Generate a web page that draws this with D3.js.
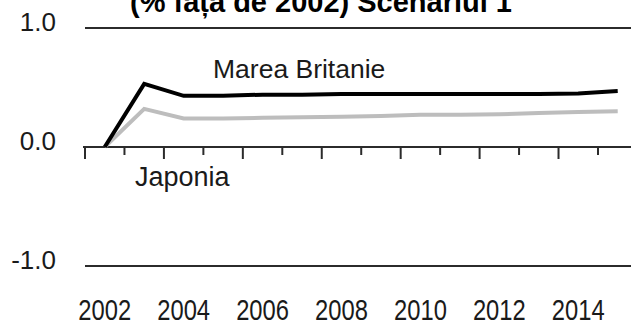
<!DOCTYPE html>
<html>
<head>
<meta charset="utf-8">
<script src="https://cdn.jsdelivr.net/npm/d3@7"></script>
<style>
  html, body { margin: 0; padding: 0; background: #fff; }
  svg { display: block; font-family: "Liberation Sans", Arial, sans-serif; }
</style>
</head>
<body>
<svg id="chart" width="631" height="329"></svg>
<script>
// Years on the category axis
const years = [2002, 2003, 2004, 2005, 2006, 2007, 2008, 2009, 2010, 2011, 2012, 2013, 2014, 2015];
// Change vs. 2002 (%), scenario 1
const mareaBritanie = [0, 0.53, 0.43, 0.43, 0.44, 0.44, 0.445, 0.445, 0.445, 0.445, 0.445, 0.445, 0.45, 0.47];
const japonia = [0, 0.32, 0.24, 0.24, 0.245, 0.25, 0.255, 0.26, 0.27, 0.27, 0.275, 0.285, 0.295, 0.30];
// Axis labels
const yTicks = [1.0, 0.0, -1.0];
const xLabelYears = [2002, 2004, 2006, 2008, 2010, 2012, 2014];
const title = "(% față de 2002) Scenariul 1";
const seriesNames = ["Marea Britanie", "Japonia"];

const svg = d3.select("#chart");

const x = d3.scaleBand().domain(years).range([85, 85 + years.length * 39.46]).padding(0);
const y = d3.scaleLinear().domain([-1, 1]).range([266, 28]);

// Title (runs off the top edge)
svg.append("text")
  .attr("x", 512).attr("y", 12)
  .attr("text-anchor", "end")
  .attr("font-weight", "bold")
  .attr("font-size", 29)
  .attr("fill", "#000")
  .text(title);

// Horizontal reference lines at +1 and -1
svg.selectAll("line.grid")
  .data(yTicks.filter(d => d !== 0))
  .join("line")
  .attr("class", "grid")
  .attr("x1", 85).attr("x2", 631)
  .attr("y1", d => y(d)).attr("y2", d => y(d))
  .attr("stroke", "#2b2b2b").attr("stroke-width", 2);

// Zero axis with category ticks
svg.append("line")
  .attr("x1", 83).attr("x2", 631)
  .attr("y1", y(0)).attr("y2", y(0))
  .attr("stroke", "#2b2b2b").attr("stroke-width", 2);

svg.selectAll("line.tick")
  .data(years)
  .join("line")
  .attr("class", "tick")
  .attr("x1", d => x(d)).attr("x2", d => x(d))
  .attr("y1", y(0)).attr("y2", (d, i) => y(0) + (i % 2 === 0 ? 12 : 8))
  .attr("stroke", "#2b2b2b").attr("stroke-width", 2);

// Y labels
svg.selectAll("text.ylab")
  .data(yTicks)
  .join("text")
  .attr("class", "ylab")
  .attr("x", 56)
  .attr("y", d => y(d) + 3)
  .attr("text-anchor", "end")
  .attr("font-size", 26)
  .attr("fill", "#1a1a1a")
  .text(d => d.toFixed(1));

// X labels (every second year)
svg.selectAll("text.xlab")
  .data(xLabelYears)
  .join("text")
  .attr("class", "xlab")
  .attr("transform", d => `translate(${x(d) + x.bandwidth() / 2},320) scale(0.82,1)`)
  .attr("text-anchor", "middle")
  .attr("font-size", 29)
  .attr("fill", "#1a1a1a")
  .text(d => d);

// Series lines
const line = d3.line()
  .x((d, i) => x(years[i]) + x.bandwidth() / 2)
  .y(d => y(d));

svg.append("path")
  .datum(japonia)
  .attr("d", line)
  .attr("fill", "none")
  .attr("stroke", "#bdbdbd")
  .attr("stroke-width", 4)
  .attr("stroke-linejoin", "miter");

svg.append("path")
  .datum(mareaBritanie)
  .attr("d", line)
  .attr("fill", "none")
  .attr("stroke", "#000")
  .attr("stroke-width", 4)
  .attr("stroke-linejoin", "miter");

// Series labels
svg.append("text")
  .attr("x", 213).attr("y", 78)
  .attr("font-size", 26.5)
  .attr("fill", "#1a1a1a")
  .text(seriesNames[0]);

svg.append("text")
  .attr("x", 135).attr("y", 186)
  .attr("font-size", 27)
  .attr("fill", "#1a1a1a")
  .text(seriesNames[1]);
</script>
</body>
</html>
